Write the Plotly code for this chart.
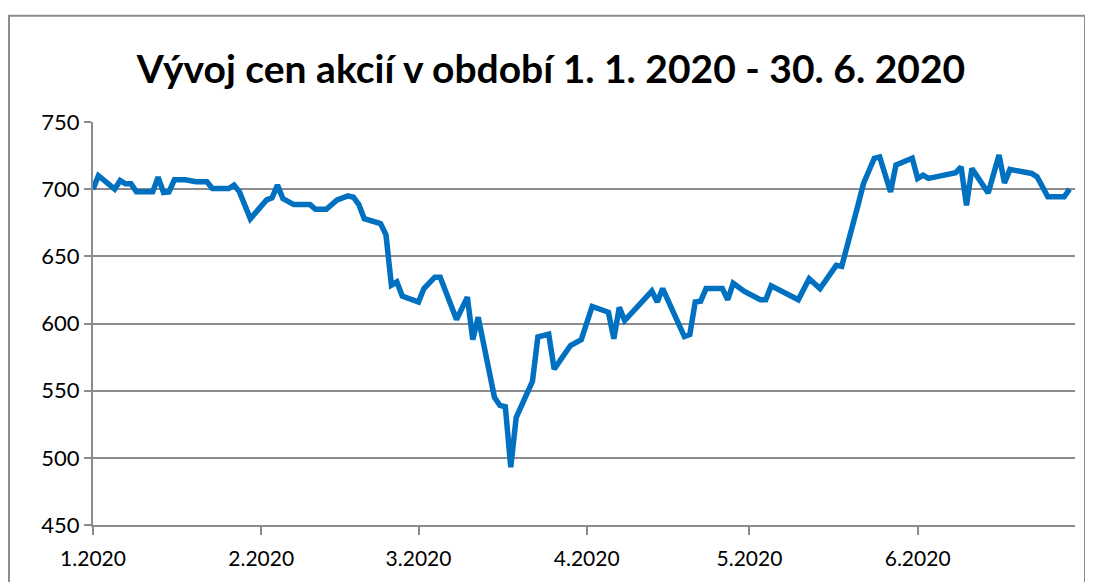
import plotly.graph_objects as go

dates = [
    "2020-01-01", "2020-01-02", "2020-01-05", "2020-01-06", "2020-01-07", "2020-01-08",
    "2020-01-09", "2020-01-12", "2020-01-13", "2020-01-14", "2020-01-15", "2020-01-16",
    "2020-01-18", "2020-01-20", "2020-01-22", "2020-01-23", "2020-01-26", "2020-01-27",
    "2020-01-28", "2020-01-30", "2020-02-02", "2020-02-03", "2020-02-04", "2020-02-05",
    "2020-02-07", "2020-02-10", "2020-02-11", "2020-02-13", "2020-02-15", "2020-02-17",
    "2020-02-18", "2020-02-19", "2020-02-20", "2020-02-23", "2020-02-24", "2020-02-25",
    "2020-02-26", "2020-02-27", "2020-03-01", "2020-03-02", "2020-03-04", "2020-03-05",
    "2020-03-08", "2020-03-10", "2020-03-11", "2020-03-12", "2020-03-15", "2020-03-16",
    "2020-03-17", "2020-03-18", "2020-03-19", "2020-03-22", "2020-03-23", "2020-03-25",
    "2020-03-26", "2020-03-29", "2020-03-31", "2020-04-02", "2020-04-05", "2020-04-06",
    "2020-04-07", "2020-04-08", "2020-04-13", "2020-04-14", "2020-04-15", "2020-04-19",
    "2020-04-20", "2020-04-21", "2020-04-22", "2020-04-23", "2020-04-26", "2020-04-27",
    "2020-04-28", "2020-04-30", "2020-05-03", "2020-05-04", "2020-05-05", "2020-05-10",
    "2020-05-12", "2020-05-14", "2020-05-17", "2020-05-18", "2020-05-21", "2020-05-22",
    "2020-05-24", "2020-05-25", "2020-05-27", "2020-05-28", "2020-05-31", "2020-06-01",
    "2020-06-02", "2020-06-03", "2020-06-05", "2020-06-08", "2020-06-09", "2020-06-10",
    "2020-06-11", "2020-06-14", "2020-06-16", "2020-06-17", "2020-06-18", "2020-06-21",
    "2020-06-22", "2020-06-23", "2020-06-25", "2020-06-28", "2020-06-29",
]
prices = [
    700, 710, 700, 706.5, 704, 704,
    698, 698, 709, 697.5, 698, 707,
    707, 705.5, 705.5, 700.5, 700.5, 703,
    698, 678, 692, 693.5, 703, 693,
    688.5, 688.5, 685, 685, 692, 695,
    694, 688.5, 678, 674.4, 666, 628.5,
    631, 620.4, 616, 626, 634.5, 634.5,
    603, 619.6, 588, 604.7, 545, 539,
    538, 493, 530, 557, 590, 592,
    566, 583.6, 588, 612.7, 608.4, 588.6,
    612, 602.2, 624.1, 616, 626, 590.3,
    591.8, 616, 616.6, 626, 626, 617.7,
    630, 624, 617.7, 617.7, 628, 617.7,
    633.4, 626, 643.3, 642.5, 688, 704,
    723, 724, 698, 718, 723, 708,
    710.4, 708, 709.7, 712.2, 716.6, 688,
    715.4, 697.2, 725.4, 704.7, 714.7, 712.2,
    711.7, 709.2, 694.3, 694.3, 700,
]

month_ticks = ["2020-01-01", "2020-02-01", "2020-03-01", "2020-04-01", "2020-05-01", "2020-06-01"]
month_labels = ["1.2020", "2.2020", "3.2020", "4.2020", "5.2020", "6.2020"]
y_ticks = [450, 500, 550, 600, 650, 700, 750]

title_text = "Vývoj cen akcií v období 1. 1. 2020 - 30. 6. 2020"

# page has an 8px body margin; figure is sized so the plot lands where the reference has it
W, H = 1085, 574
L, R, T, B = 85, 18, 114, 50
PW, PH = W - L - R, H - T - B

fig = go.Figure()
fig.add_trace(go.Scatter(
    x=dates, y=prices, mode="lines",
    line=dict(color="#0070C0", width=5.5),
    showlegend=False,
))

grid_col = "#8c8c8c"
fig.update_layout(
    width=W, height=H,
    margin=dict(l=L, r=R, t=T, b=B),
    paper_bgcolor="white", plot_bgcolor="white",
    font=dict(family="Lato, Carlito, Calibri, sans-serif", color="#000000"),
    title=dict(
        text="<b>" + title_text + "</b>",
        font=dict(size=39, family="Lato, Carlito, Calibri, sans-serif", color="#000000"),
        x=(551 - 8) / W, xref="container", xanchor="center",
        y=1 - (69 - 8) / H, yref="container", yanchor="middle",
    ),
    xaxis=dict(
        type="date",
        range=["2020-01-01", "2020-06-30"],
        tickvals=month_ticks, ticktext=month_labels,
        showgrid=False, zeroline=False,
        showline=True, linecolor=grid_col, linewidth=2,
        ticks="outside", ticklen=8, tickwidth=2, tickcolor=grid_col,
        ticklabelstandoff=6,
        tickfont=dict(size=21, color="#000000"),
    ),
    yaxis=dict(
        range=[450, 750],
        tickvals=y_ticks,
        showgrid=True, gridcolor=grid_col, gridwidth=2,
        zeroline=False,
        showline=True, linecolor=grid_col, linewidth=2,
        ticks="outside", ticklen=7, tickwidth=2, tickcolor=grid_col,
        tickfont=dict(size=22, color="#000000"),
    ),
    shapes=[dict(
        type="rect", xref="paper", yref="paper",
        x0=(1 - L) / PW, x1=(1077 - L) / PW,
        y0=-0.3, y1=(H - B - 6) / PH,
        line=dict(color="#8c8c8c", width=2), fillcolor="rgba(0,0,0,0)",
        layer="below",
    )],
)

fig.write_html("out.html")
